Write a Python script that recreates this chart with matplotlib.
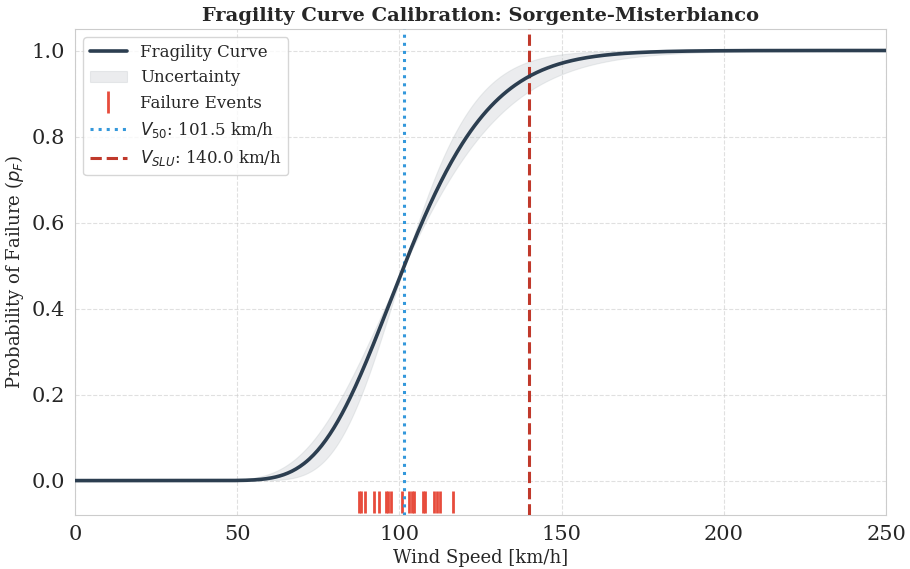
import math
import matplotlib
matplotlib.use('Agg')
import matplotlib.pyplot as plt
import numpy as np
import seaborn as sns

# ==================== DATA ====================
V50 = 101.5          # median capacity [km/h]
BETA = 0.207         # lognormal dispersion
BETA_LOW = 0.165     # band bounds
BETA_HIGH = 0.245
V_SLU = 140.0

failure_speeds = [87.5, 88.3, 89.5, 92.3, 93.6, 95.8, 96.4, 97.3, 100.7,
                  103.1, 103.8, 104.5, 107.2, 107.9, 110.8, 111.7, 112.5, 116.6]

speeds = np.linspace(0.1, 250, 600)


def lognorm_cdf(v, median, beta):
    return np.array([0.5 * (1 + math.erf(math.log(x / median) / (beta * math.sqrt(2)))) for x in v])


sns.set_style('whitegrid', {'grid.linestyle': '--'})
plt.rcParams['font.family'] = ['DejaVu Serif']

fig = plt.figure(figsize=(9.1, 5.69), dpi=100)
ax = fig.add_axes([75 / 910, 1 - 515 / 569, 811 / 910, 486 / 569])

p_mid = lognorm_cdf(speeds, V50, BETA)
p_a = lognorm_cdf(speeds, V50, BETA_LOW)
p_b = lognorm_cdf(speeds, V50, BETA_HIGH)

ax.plot(speeds, p_mid, color='#2c3e50', linewidth=2.6, label='Fragility Curve', zorder=4)
ax.fill_between(speeds, np.minimum(p_a, p_b), np.maximum(p_a, p_b),
                facecolor='#bdc3c7', edgecolor='#bdc3c7', linewidth=0.8, alpha=0.3,
                label='Uncertainty', zorder=2)
ax.plot(failure_speeds, [-0.05] * len(failure_speeds), linestyle='none', marker='|',
        markersize=16, markeredgewidth=2, color='#e74c3c', label='Failure Events', zorder=3)
ax.axvline(V50, color='#3498db', linestyle=':', linewidth=2.2,
           label=f'$V_{{50}}$: {V50:.1f} km/h', zorder=3)
ax.axvline(V_SLU, color='#c0392b', linestyle='--', linewidth=2.2,
           label=f'$V_{{SLU}}$: {V_SLU:.1f} km/h', zorder=3)

ax.set_xlim(0, 250)
ax.set_ylim(-0.08, 1.05)
ax.set_xticks([0, 50, 100, 150, 200, 250])
ax.set_yticks([0.0, 0.2, 0.4, 0.6, 0.8, 1.0])
ax.tick_params(labelsize=15)
ax.grid(True, linestyle='--', alpha=0.6)
for s in ax.spines.values():
    s.set_color('#cccccc')

ax.set_xlabel('Wind Speed [km/h]', fontsize=13)
ax.set_ylabel('Probability of Failure ($p_F$)', fontsize=13)
ax.set_title('Fragility Curve Calibration: Sorgente-Misterbianco',
             fontsize=14, fontweight='bold', pad=6)
ax.legend(loc='upper left', fontsize=12, frameon=True, handlelength=2.2,
          borderpad=0.4, labelspacing=0.5)

plt.savefig('out.png', dpi=100)
plt.close()
